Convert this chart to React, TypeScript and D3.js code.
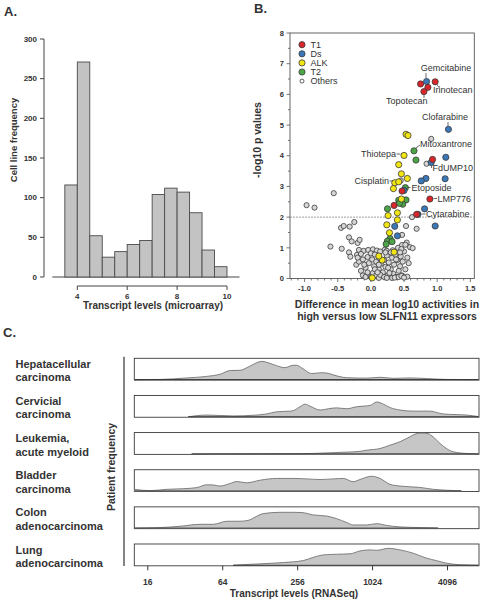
import React from "react";
import * as d3 from "d3";

// ---------- Panel A data ----------
const binStarts = [3.5, 4, 4.5, 5, 5.5, 6, 6.5, 7, 7.5, 8, 8.5, 9, 9.5];
const binCounts = [116, 271, 52, 25, 32, 41, 46, 104, 112, 107, 81, 34, 13];
const aYTicks = [0, 50, 100, 150, 200, 250, 300];
const aXTicks = [4, 6, 8, 10];

// ---------- Panel B data ----------
const t1Points: [number, number][] = [
  [0.75, 6.34], [0.86, 6.23], [0.8, 6.09], [0.97, 6.41], [0.93, 3.88], [0.89, 2.59],
  [0.35, 2.38], [0.69, 2.09], [0.47, 2.85],
];
const dsPoints: [number, number][] = [
  [0.84, 6.42], [1.17, 4.86], [1.13, 3.95], [0.91, 3.78], [0.83, 3.26], [0.76, 3.18],
  [1.12, 3.25], [0.5, 2.87], [0.81, 2.27], [0.71, 2.09], [0.97, 1.71], [0.36, 1.7], [0.4, 1.39],
];
const alkPoints: [number, number][] = [
  [0.53, 4.7], [0.56, 4.66], [0.5, 4.01], [0.42, 3.71], [0.46, 3.41], [0.55, 3.26],
  [0.36, 3.12], [0.42, 3.15], [0.34, 2.93], [0.46, 2.59], [0.4, 2.14], [0.26, 2.05],
  [0.4, 1.91], [0.24, 1.75], [0.28, 1.49], [0.35, 0.86], [0.17, 0.6], [0.12, 0.73], [0.02, 0.02],
];
const t2Points: [number, number][] = [
  [0.65, 4.16], [0.68, 3.86], [0.52, 2.96], [0.42, 2.55], [0.47, 2.5], [0.53, 2.56],
  [0.48, 2.42], [0.43, 2.45], [0.25, 2.27], [0.29, 1.3], [0.25, 1.22], [0.23, 1.12], [0.32, 1.2],
];
const otherPoints: [number, number][] = [
  [-0.97, 2.39], [-0.85, 2.31], [-0.56, 2.78], [-0.45, 1.65], [-0.41, 1.71], [-0.32, 1.69],
  [-0.25, 1.84], [-0.61, 1.04], [-0.44, 0.97], [-0.33, 1.34], [-0.29, 1.21], [-0.2, 1.16],
  [-0.17, 1.26], [-0.33, 0.85], [-0.31, 0.71], [-0.21, 0.77],
  [0.91, 4.55], [0.84, 3.74], [0.45, 3.19], [0.62, 2.0], [0.53, 1.71], [0.69, 1.62],
  [0.47, 1.42], [0.54, 1.17], [0.59, 1.02], [0.63, 0.99], [0.47, 1.09],
  [-0.18, 0.93], [-0.11, 0.9], [-0.04, 0.93], [0.03, 0.95], [0.09, 0.91], [0.14, 0.88],
  [0.21, 0.94], [0.24, 0.9],
  [-0.22, 0.45], [-0.18, 0.55], [-0.15, 0.8], [-0.12, 0.62], [-0.08, 0.35], [-0.05, 0.7],
  [-0.03, 0.5], [0.0, 0.82], [0.02, 0.62], [0.05, 0.4], [0.06, 0.78], [0.08, 0.55],
  [0.12, 0.3], [0.13, 0.66], [0.15, 0.48], [0.18, 0.2], [0.2, 0.6], [0.22, 0.38],
  [0.24, 0.75], [0.25, 0.1], [0.27, 0.52], [0.3, 0.3], [0.32, 0.68], [0.34, 0.15],
  [0.35, 0.45], [0.37, 0.78], [0.38, 0.05], [0.4, 0.6], [0.42, 0.25], [0.44, 0.4],
  [0.45, 0.72], [0.47, 0.1], [0.48, 0.55], [0.5, 0.88], [0.52, 0.3], [0.55, 0.06],
  [-0.15, 0.25], [-0.12, 0.1], [-0.08, 0.05], [-0.05, 0.2], [0.0, 0.05], [0.03, 0.18],
  [0.08, 0.1], [0.12, 0.02], [0.14, 0.12], [0.2, 0.05], [0.24, 0.02], [0.28, 0.18],
  [0.32, 0.02], [0.36, 0.03], [0.42, 0.05], [0.46, 0.08], [0.5, 0.03],
  [-0.2, 0.68], [0.06, 0.3], [0.12, 0.45], [0.22, 0.85], [0.26, 0.35], [0.33, 0.92],
  [0.38, 0.62], [0.41, 1.0], [0.46, 0.96], [0.52, 1.1], [0.57, 0.5], [0.55, 0.68],
  [-0.1, 0.45], [0.1, 0.2], [0.3, 0.85], [0.44, 0.85],
];
const bXTicks = [-1.0, -0.5, 0.0, 0.5, 1.0, 1.5];
const bYTicks = [0, 1, 2, 3, 4, 5, 6, 7, 8];
const legendNames = ["T1", "Ds", "ALK", "T2", "Others"];
const drugNames = [
  "Gemcitabine", "Irinotecan", "Topotecan", "Clofarabine", "Mitoxantrone", "Thiotepa",
  "FdUMP10", "Cisplatin", "Etoposide", "LMP776", "Cytarabine",
];
const drugPoints: [number, number][] = [
  [0.84, 6.42], [0.97, 6.41], [0.8, 6.09], [1.17, 4.86], [0.65, 4.16], [0.5, 4.01],
  [0.91, 3.78], [0.36, 3.12], [0.52, 2.96], [0.89, 2.59], [0.71, 2.09],
];

// ---------- Panel C data ----------
const cancerNames = [
  ["Hepatacellular", "carcinoma"],
  ["Cervicial", "carcinoma"],
  ["Leukemia,", "acute myeloid"],
  ["Bladder", "carcinoma"],
  ["Colon", "adenocarcinoma"],
  ["Lung", "adenocarcinoma"],
];
// [log2 transcript level, relative density]
const hepDensity: [number, number][] = [
  [3.64, 0.02], [4.33, 0.03], [5.04, 0.1], [5.57, 0.17], [5.93, 0.27], [6.2, 0.44], [6.46, 0.45],
  [6.68, 0.6], [6.91, 0.8], [7.04, 0.86], [7.17, 0.82], [7.44, 0.66], [7.66, 0.57], [7.88, 0.68],
  [7.97, 0.68], [8.11, 0.56], [8.37, 0.3], [8.64, 0.34], [8.82, 0.31], [8.95, 0.24], [9.31, 0.11],
  [9.84, 0.09], [10.2, 0.13], [10.55, 0.08], [11.0, 0.1], [11.44, 0.07], [11.98, 0.03], [12.83, 0.02],
];
const cervDensity: [number, number][] = [
  [5.08, 0.02], [5.57, 0.1], [6.28, 0.06], [6.82, 0.09], [7.17, 0.15], [7.44, 0.25], [7.8, 0.28],
  [7.88, 0.3], [8.06, 0.48], [8.2, 0.6], [8.33, 0.51], [8.6, 0.33], [8.82, 0.39], [9.04, 0.43],
  [9.31, 0.39], [9.57, 0.48], [9.75, 0.51], [9.93, 0.54], [10.11, 0.7], [10.29, 0.6], [10.46, 0.45],
  [10.73, 0.33], [11.08, 0.28], [11.53, 0.28], [11.88, 0.15], [12.24, 0.12], [12.51, 0.1], [12.83, 0.03],
];
const leukDensity: [number, number][] = [
  [5.17, 0.01], [6.28, 0.02], [8.06, 0.03], [8.95, 0.08], [9.4, 0.11], [9.66, 0.14], [9.84, 0.19],
  [10.2, 0.27], [10.46, 0.42], [10.73, 0.58], [11.0, 0.81], [11.17, 0.95], [11.31, 0.98],
  [11.48, 0.95], [11.62, 0.8], [11.8, 0.5], [11.97, 0.27], [12.15, 0.12], [12.51, 0.04], [12.83, 0.02],
];
const bladDensity: [number, number][] = [
  [3.64, 0.1], [4.06, 0.04], [4.51, 0.1], [4.95, 0.13], [5.31, 0.18], [5.57, 0.31], [5.75, 0.3],
  [5.93, 0.25], [6.2, 0.37], [6.37, 0.46], [6.64, 0.4], [7.0, 0.52], [7.44, 0.6], [7.88, 0.6],
  [8.24, 0.58], [8.6, 0.55], [8.95, 0.58], [9.22, 0.6], [9.48, 0.45], [9.66, 0.55], [9.97, 0.7],
  [10.2, 0.6], [10.46, 0.33], [10.73, 0.25], [11.26, 0.19], [11.62, 0.1], [11.97, 0.06], [12.37, 0.03],
];
const colonDensity: [number, number][] = [
  [3.64, 0.03], [4.33, 0.05], [4.86, 0.11], [5.4, 0.2], [5.75, 0.2], [6.11, 0.34], [6.46, 0.34],
  [6.68, 0.38], [6.91, 0.57], [7.08, 0.69], [7.53, 0.75], [7.88, 0.75], [8.11, 0.74], [8.42, 0.63],
  [8.77, 0.58], [9.04, 0.46], [9.31, 0.28], [9.48, 0.17], [9.84, 0.17], [10.11, 0.23], [10.37, 0.15],
  [10.73, 0.08], [11.26, 0.05], [11.75, 0.03],
];
const lungDensity: [number, number][] = [
  [6.28, 0.03], [7.0, 0.09], [7.62, 0.15], [8.15, 0.24], [8.42, 0.39], [8.68, 0.5], [9.04, 0.53],
  [9.4, 0.55], [9.66, 0.68], [9.93, 0.73], [10.11, 0.71], [10.42, 0.8], [10.73, 0.73], [11.08, 0.58],
  [11.44, 0.35], [11.7, 0.24], [11.97, 0.12], [12.33, 0.05], [12.83, 0.03],
];
const densities = [hepDensity, cervDensity, leukDensity, bladDensity, colonDensity, lungDensity];
const cXTicks = [16, 64, 256, 1024, 4096];

const FONT = "'Liberation Sans', Arial, sans-serif";
const colors = { T1: "#d9262a", Ds: "#3b78b8", ALK: "#f1e514", T2: "#4da547", Others: "#d6d6d6" };
const legendColors = [colors.T1, colors.Ds, colors.ALK, colors.T2, "#ffffff"];

// label layout (pixels), same order as drugNames
const labelLayout = [
  { tx: 446, ty: 71, anchor: "middle", l: [426, 73, 426, 78] },
  { tx: 433, ty: 93, anchor: "start", l: [436.5, 84, 439.5, 88] },
  { tx: 386, ty: 104, anchor: "start", l: [424, 94, 424, 98] },
  { tx: 422, ty: 120, anchor: "start", l: [448, 122, 448, 126] },
  { tx: 420, ty: 147, anchor: "start", l: [416, 148, 420, 145] },
  { tx: 396, ty: 157, anchor: "end", l: [396.5, 154, 400.5, 154] },
  { tx: 432.5, ty: 171, anchor: "start", l: [431.5, 165.5, 431.5, 168] },
  { tx: 389, ty: 184, anchor: "end", l: [389.5, 181, 393, 181] },
  { tx: 411.5, ty: 190.5, anchor: "start", l: [407.5, 187.5, 410.5, 187.5] },
  { tx: 437.5, ty: 201.5, anchor: "start", l: [433.5, 198.5, 437, 198.5] },
  { tx: 426, ty: 217, anchor: "start", l: [421.5, 214, 425.5, 214] },
];

export default function App() {
  // Panel A scales
  const xA = d3.scaleLinear().domain([4, 10]).range([77.3, 227]);
  const yA = d3.scaleLinear().domain([0, 300]).range([277, 39]);
  // Panel B scales
  const xB = d3.scaleLinear().domain([-1.22, 1.56]).range([290, 474.3]);
  const yB = d3.scaleLinear().domain([0, 8]).range([278.5, 33]);
  // Panel C scales
  const xC = d3.scaleLog().base(2).domain([2 ** 3.64, 2 ** 12.84]).range([134.3, 479]);
  const ridgeTop = (i: number) => 358.3 + i * 37.14;
  const ridgeH = 21.8;

  const bMinorX = d3.range(-1.2, 1.56, 0.1);
  const bMinorY = d3.range(0, 8.01, 0.5);

  const dot = (pts: [number, number][], fill: string, r: number, key: string) =>
    pts.map((p, i) => (
      <circle key={key + i} cx={xB(p[0])} cy={yB(p[1])} r={r} fill={fill} stroke="#3a3a3a" strokeWidth={0.8} />
    ));

  return (
    <svg width={483} height={600} style={{ position: "absolute", left: 0, top: 0, background: "#fff" }} fontFamily={FONT}>
      {/* Panel labels */}
      <text x={4} y={16} fontSize={13} fontWeight="bold" fill="#333">A.</text>
      <text x={254} y={13} fontSize={13} fontWeight="bold" fill="#333">B.</text>
      <text x={3} y={337} fontSize={13} fontWeight="bold" fill="#333">C.</text>

      {/* ===== Panel A ===== */}
      <line x1={xA(3)} x2={xA(10.5)} y1={yA(0)} y2={yA(0)} stroke="#444" strokeWidth={1} />
      {binStarts.map((b, i) => (
        <rect key={"bar" + i} x={xA(b)} y={yA(binCounts[i])} width={xA(b + 0.5) - xA(b)} height={yA(0) - yA(binCounts[i])}
          fill="#c3c3c3" stroke="#4a4a4a" strokeWidth={0.9} />
      ))}
      <line x1={44} x2={44} y1={yA(0)} y2={yA(300)} stroke="#444" />
      {aYTicks.map((t) => (
        <g key={"ay" + t}>
          <line x1={40} x2={44} y1={yA(t)} y2={yA(t)} stroke="#444" />
          <text x={37} y={yA(t) + 2.8} fontSize={8} fontWeight="bold" textAnchor="end" fill="#333">{t}</text>
        </g>
      ))}
      <line x1={xA(4)} x2={xA(10)} y1={286} y2={286} stroke="#444" />
      {aXTicks.map((t) => (
        <g key={"ax" + t}>
          <line x1={xA(t)} x2={xA(t)} y1={286} y2={290} stroke="#444" />
          <text x={xA(t)} y={299} fontSize={8} fontWeight="bold" textAnchor="middle" fill="#333">{t}</text>
        </g>
      ))}
      <text transform="translate(17,140) rotate(-90)" fontSize={9.5} fontWeight="bold" textAnchor="middle" fill="#333">Cell line frequency</text>
      <text x={153} y={309} fontSize={10} fontWeight="bold" textAnchor="middle" fill="#333">Transcript levels (microarray)</text>

      {/* ===== Panel B ===== */}
      <rect x={290} y={33} width={474.3 - 290} height={278.5 - 33} fill="none" stroke="#555" strokeWidth={0.9} />
      <line x1={290} x2={474.3} y1={yB(2)} y2={yB(2)} stroke="#888" strokeWidth={0.8} strokeDasharray="2,1" />
      {bMinorY.map((t, i) => (
        <line key={"bmy" + i} x1={Number.isInteger(t) ? 286.5 : 288} x2={290} y1={yB(t)} y2={yB(t)} stroke="#555" strokeWidth={0.8} />
      ))}
      {bYTicks.map((t) => (
        <text key={"by" + t} x={284} y={yB(t) + 2.7} fontSize={7.5} fontWeight="bold" textAnchor="end" fill="#333">{t}</text>
      ))}
      {bMinorX.map((t, i) => (
        <line key={"bmx" + i} x1={xB(t)} x2={xB(t)} y1={278.5} y2={Math.abs(Math.round(t * 10) % 5) === 0 ? 282 : 280.5} stroke="#555" strokeWidth={0.8} />
      ))}
      {bXTicks.map((t) => (
        <text key={"bx" + t} x={xB(t)} y={291} fontSize={7.5} fontWeight="bold" textAnchor="middle" fill="#333">{t.toFixed(1)}</text>
      ))}
      <text transform="translate(261,140) rotate(-90)" fontSize={10.5} fontWeight="bold" textAnchor="middle" fill="#333">-log10 p values</text>
      <text x={387} y={308} fontSize={10.5} fontWeight="bold" textAnchor="middle" fill="#333">Difference in mean log10 activities in</text>
      <text x={387} y={320} fontSize={10.5} fontWeight="bold" textAnchor="middle" fill="#333">high versus low SLFN11 expressors</text>

      {dot(otherPoints, colors.Others, 2.6, "o")}
      {dot(t2Points, colors.T2, 3.1, "g")}
      {dot(alkPoints, colors.ALK, 3.1, "y")}
      {dot(dsPoints, colors.Ds, 3.1, "b")}
      {dot(t1Points, colors.T1, 3.1, "r")}

      {/* legend */}
      {legendNames.map((n, i) => (
        <g key={"lg" + n}>
          <circle cx={302} cy={44.7 + i * 9.1} r={i === 4 ? 2 : 3.1} fill={legendColors[i]} stroke="#3a3a3a" strokeWidth={0.8} />
          <text x={310.5} y={48 + i * 9.1} fontSize={9} fill="#333">{n}</text>
        </g>
      ))}

      {/* annotations */}
      {drugNames.map((n, i) => {
        const L = labelLayout[i];
        return (
          <g key={"an" + n}>
            <line x1={L.l[0]} y1={L.l[1]} x2={L.l[2]} y2={L.l[3]} stroke="#444" strokeWidth={0.8} />
            <text x={L.tx} y={L.ty} fontSize={9} textAnchor={L.anchor as any} fill="#333">{n}</text>
          </g>
        );
      })}

      {/* ===== Panel C ===== */}
      <line x1={124} x2={124} y1={356.7} y2={566} stroke="#333" strokeWidth={1.2} />
      <text transform="translate(115,467) rotate(-90)" fontSize={10.5} fontWeight="bold" textAnchor="middle" fill="#333">Patient frequency</text>
      {densities.map((dens, i) => {
        const top = ridgeTop(i);
        const yC = d3.scaleLinear().domain([0, 1]).range([top + ridgeH, top]);
        const area = d3.area<[number, number]>()
          .x((d) => xC(2 ** d[0]))
          .y0(top + ridgeH)
          .y1((d) => yC(d[1]))
          .curve(d3.curveMonotoneX);
        const line = d3.line<[number, number]>()
          .x((d) => xC(2 ** d[0]))
          .y((d) => yC(d[1]))
          .curve(d3.curveMonotoneX);
        return (
          <g key={"ridge" + i}>
            <rect x={134.3} y={top} width={479 - 134.3} height={ridgeH} fill="#fff" stroke="#3a3a3a" strokeWidth={0.9} />
            <path d={area(dens) || ""} fill="#c6c6c6" />
            <path d={line(dens) || ""} fill="none" stroke="#666" strokeWidth={0.8} />
            <line x1={xC(2 ** dens[0][0])} x2={xC(2 ** dens[dens.length - 1][0])} y1={top + ridgeH - 0.5} y2={top + ridgeH - 0.5} stroke="#333" strokeWidth={1} />
            <text x={15.5} y={top + 9.5} fontSize={11} fontWeight="bold" fill="#333">{cancerNames[i][0]}</text>
            <text x={15.5} y={top + 23} fontSize={11} fontWeight="bold" fill="#333">{cancerNames[i][1]}</text>
          </g>
        );
      })}
      {cXTicks.map((t) => (
        <g key={"cx" + t}>
          <line x1={xC(t)} x2={xC(t)} y1={ridgeTop(5) + ridgeH} y2={ridgeTop(5) + ridgeH + 4.5} stroke="#333" />
          <text x={xC(t)} y={584.5} fontSize={8.5} fontWeight="bold" textAnchor="middle" fill="#333">{t}</text>
        </g>
      ))}
      <text x={294} y={597} fontSize={10} fontWeight="bold" textAnchor="middle" fill="#333">Transcript levels (RNASeq)</text>
    </svg>
  );
}
